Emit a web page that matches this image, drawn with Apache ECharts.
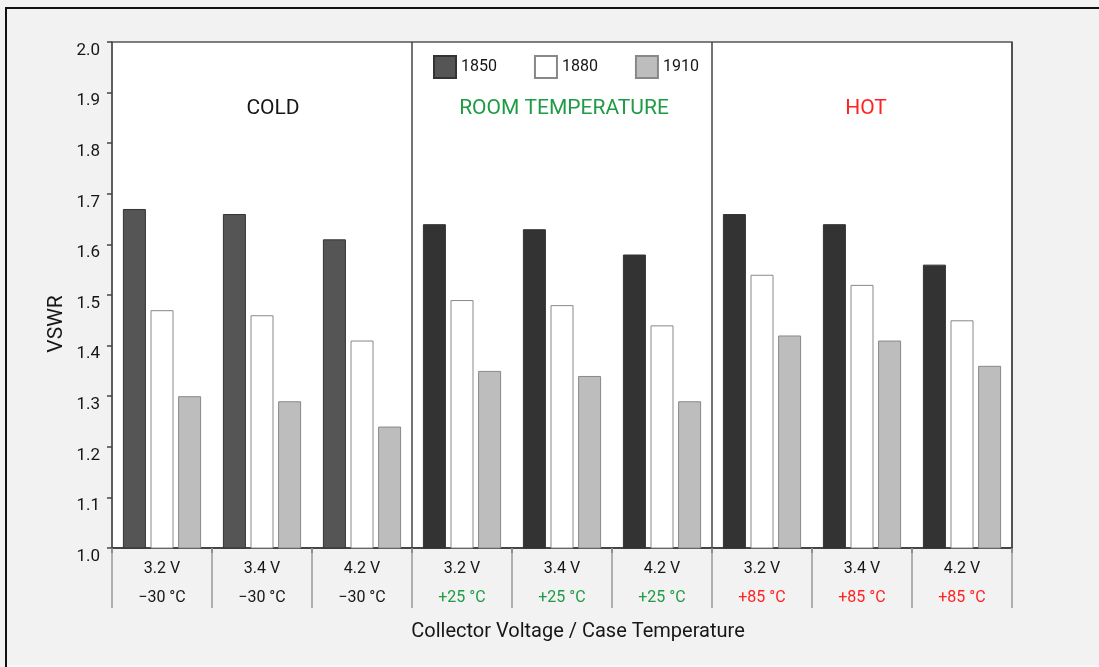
<!DOCTYPE html>
<html>
<head>
<meta charset="utf-8">
<script src="https://cdn.jsdelivr.net/npm/echarts@6/dist/echarts.min.js"></script>
<style>
html,body{margin:0;padding:0;background:#f2f2f2;}
#c{width:1099px;height:667px;}
</style>
</head>
<body>
<div id="c"></div>
<script>
// ---- data ----
var voltages = ['3.2 V','3.4 V','4.2 V','3.2 V','3.4 V','4.2 V','3.2 V','3.4 V','4.2 V'];
var temperatures = ['\u221230 \u00B0C','\u221230 \u00B0C','\u221230 \u00B0C','+25 \u00B0C','+25 \u00B0C','+25 \u00B0C','+85 \u00B0C','+85 \u00B0C','+85 \u00B0C'];
var tempGroup = ['cold','cold','cold','room','room','room','hot','hot','hot'];
var panelTitles = ['COLD','ROOM TEMPERATURE','HOT'];
var seriesNames = ['1850','1880','1910'];
var s1850 = [1.67,1.66,1.61,1.64,1.63,1.58,1.66,1.64,1.56];
var s1880 = [1.47,1.46,1.41,1.49,1.48,1.44,1.54,1.52,1.45];
var s1910 = [1.30,1.29,1.24,1.35,1.34,1.29,1.42,1.41,1.36];
var yMin = 1.0, yMax = 2.0, yStep = 0.1;

var FONT = 'Roboto, "Liberation Sans", sans-serif';
var TXT = '#161616';
var cats = voltages.map(function(v,i){return v + '|' + i;});

var chart = echarts.init(document.getElementById('c'), null, {renderer:'canvas'});

var d1850 = s1850.map(function(v,i){
  return {value:v, itemStyle:{color: tempGroup[i]==='cold' ? '#555555' : '#333333'}};
});

var option = {
  backgroundColor:'#f2f2f2',
  animation:false,
  textStyle:{fontFamily:FONT},
  grid:{left:112, right:87, top:42, bottom:119, show:true, backgroundColor:'#ffffff', borderColor:'#555', borderWidth:1.5},
  legend:{
    data:seriesNames, left:433, top:55, padding:0, itemWidth:22, itemHeight:22, itemGap:37, icon:'rect',
    textStyle:{fontFamily:FONT, fontSize:16, color:TXT}
  },
  xAxis:[{
    type:'category', data:cats, position:'bottom',
    axisLine:{lineStyle:{color:'#333', width:1.5}},
    axisTick:{show:true, length:5, lineStyle:{color:'#444', width:1.5}},
    splitLine:{show:true, interval:function(i){return i===3||i===6;}, lineStyle:{color:'#444', width:1.5}},
    axisLabel:{
      margin:6, interval:0,
      formatter:function(v,i){ return '{v|'+voltages[i]+'}\n{'+tempGroup[i]+'|'+temperatures[i]+'}'; },
      rich:{
        v:{fontFamily:FONT, fontSize:16, color:TXT, lineHeight:29},
        cold:{fontFamily:FONT, fontSize:16, color:TXT, lineHeight:29},
        room:{fontFamily:FONT, fontSize:16, color:'#1f9a45', lineHeight:29},
        hot:{fontFamily:FONT, fontSize:16, color:'#ff2222', lineHeight:29}
      }
    }
  },{
    type:'category', data:cats, position:'bottom', gridIndex:0,
    axisLine:{show:false},
    axisTick:{show:true, length:60, lineStyle:{color:'#999', width:1.5}},
    axisLabel:{show:false},
    splitLine:{show:false}
  }],
  yAxis:{
    type:'value', min:yMin, max:yMax, interval:yStep,
    axisLine:{show:true, lineStyle:{color:'#555', width:1.5}},
    axisTick:{show:true, length:5, lineStyle:{color:'#444', width:1.5}},
    splitLine:{show:false},
    axisLabel:{margin:12, fontFamily:FONT, fontSize:17, color:TXT, verticalAlign:'top',
      formatter:function(v){return v.toFixed(1);}}
  },
  series:[
    {name:seriesNames[0], type:'bar', data:d1850, barWidth:23, barGap:'20%',
      itemStyle:{color:'#555555', borderColor:'#333', borderWidth:1}},
    {name:seriesNames[1], type:'bar', data:s1880, barWidth:23, barGap:'20%',
      itemStyle:{color:'#ffffff', borderColor:'#888', borderWidth:1}},
    {name:seriesNames[2], type:'bar', data:s1910, barWidth:23, barGap:'20%',
      itemStyle:{color:'#bdbdbd', borderColor:'#888', borderWidth:1}}
  ],
  graphic:[
    {type:'polyline', shape:{points:[[6,667],[6,8],[1099,8]]}, style:{stroke:'#111', lineWidth:2, fill:null}, silent:true},
    {type:'line', shape:{x1:7,y1:666,x2:1099,y2:666}, style:{stroke:'#ffffff', lineWidth:1}, silent:true},
    {type:'text', x:273, y:109, style:{text:panelTitles[0], fontFamily:FONT, fontSize:21, fill:TXT, align:'center', verticalAlign:'middle'}},
    {type:'text', x:564, y:109, style:{text:panelTitles[1], fontFamily:FONT, fontSize:21, fill:'#1f9a45', align:'center', verticalAlign:'middle'}},
    {type:'text', x:866, y:109, style:{text:panelTitles[2], fontFamily:FONT, fontSize:21, fill:'#ff2222', align:'center', verticalAlign:'middle'}},
    {type:'text', x:578, y:632, style:{text:'Collector Voltage / Case Temperature', fontFamily:FONT, fontSize:20, fill:TXT, align:'center', verticalAlign:'middle'}},
    {type:'text', x:57, y:324, rotation:Math.PI/2, style:{text:'VSWR', fontFamily:FONT, fontSize:21, fill:TXT, align:'center', verticalAlign:'middle'}}
  ]
};
chart.setOption(option);
</script>
</body>
</html>
